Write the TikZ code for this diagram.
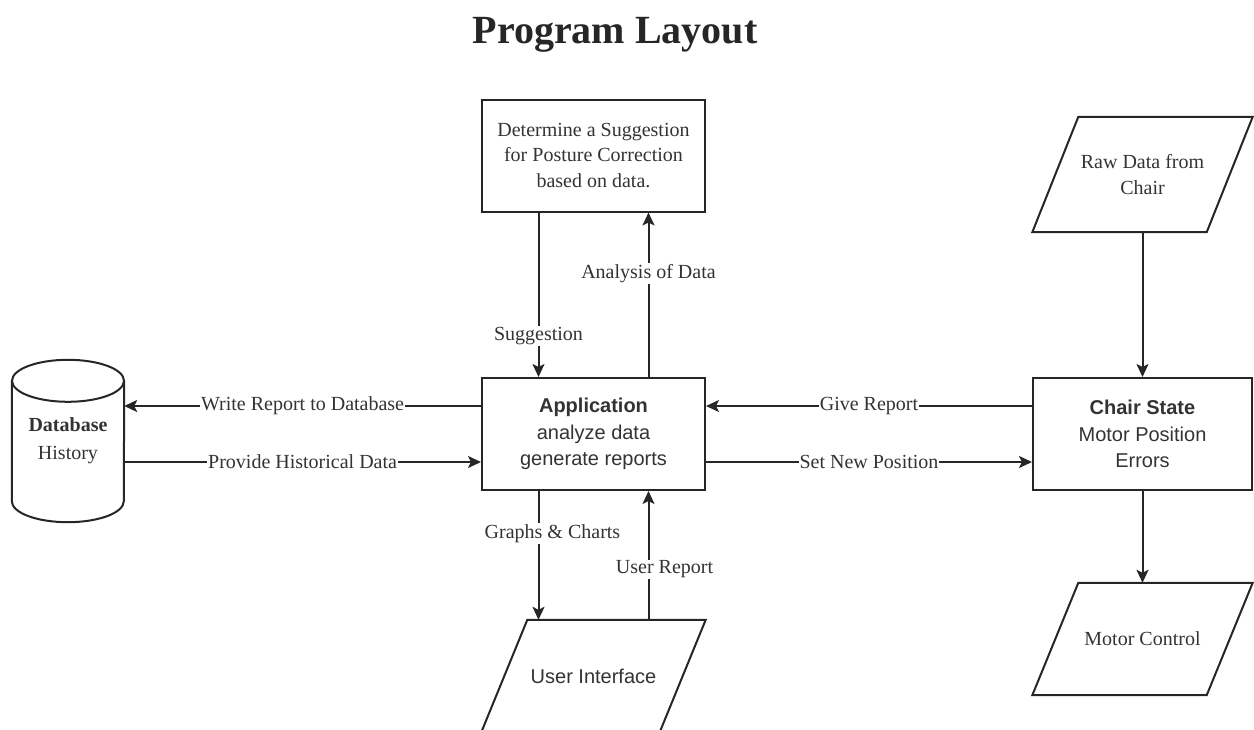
\documentclass[tikz,border=0pt]{standalone}
\usepackage{fontspec}
\setmainfont{Liberation Serif}
\setsansfont{Liberation Sans}
\usetikzlibrary{arrows.meta}

\begin{document}
\begin{tikzpicture}[x=1pt,y=-1pt,
  ink/.style={draw=black!85, line width=2pt},
  arr/.style={ink, -{Stealth[length=13pt,width=12pt,inset=3pt]}},
  box/.style={ink, minimum width=223pt, minimum height=112pt, inner sep=0pt,
    align=center, text=black!80},
  sansbox/.style={box, font=\sffamily\fontsize{20}{26.5}\selectfont},
  serifbox/.style={box, font=\fontsize{20}{25.5}\selectfont},
  slantbox/.style={minimum width=220pt, minimum height=#1, inner sep=0pt,
    align=center, text=black!80},
  lbl/.style={fill=white, inner sep=1pt, text=black!80,
    font=\fontsize{20}{24}\selectfont},
]
\useasboundingbox (0,0) rectangle (1254,729);

% title
\node[anchor=base, text=black!85, font=\bfseries\fontsize{40}{48}\selectfont]
  (title) at (615,43) {Program Layout};

% main boxes
\node[serifbox] (sugg) at (593.5,155.5)
  {Determine a Suggestion\\for Posture Correction\\based on data.};
\node[sansbox] (app) at (593.5,434)
  {\textbf{Application}\\analyze data\\generate reports};
\node[sansbox, minimum width=219pt] (chair) at (1142.5,434)
  {\textbf{Chair State}\\Motor Position\\Errors};

% database cylinder
\node[minimum width=112pt, minimum height=162pt, inner sep=0pt, align=center,
  text=black!80, font=\fontsize{20}{28}\selectfont]
  (db) at (68,441) {\textbf{Database}\\History};
\draw[ink] ([yshift=-21pt]db.north west) -- ([yshift=21pt]db.south west)
  arc[start angle=180, end angle=360, x radius=56pt, y radius=21pt]
  -- ([yshift=-21pt]db.north east);
\draw[ink] ([yshift=-21pt]db.north) ellipse [x radius=56pt, y radius=21pt];

% parallelograms (input / output)
\node[slantbox=115pt, font=\fontsize{20}{26}\selectfont] (raw) at (1142.5,174.5)
  {Raw Data from\\Chair};
\draw[ink] (raw.south west) -- ([xshift=-46pt]raw.south east)
  -- (raw.north east) -- ([xshift=46pt]raw.north west) -- cycle;

\node[slantbox=112pt, font=\fontsize{20}{26}\selectfont] (mc) at (1142.5,639)
  {Motor Control};
\draw[ink] (mc.south west) -- ([xshift=-46pt]mc.south east)
  -- (mc.north east) -- ([xshift=46pt]mc.north west) -- cycle;

\node[slantbox=112pt, minimum width=224pt, font=\sffamily\fontsize{20}{26}\selectfont]
  (ui) at (593.5,676) {User Interface};
\draw[ink] (ui.south west) -- ([xshift=-46pt]ui.south east)
  -- (ui.north east) -- ([xshift=46pt]ui.north west) -- cycle;

% connectors
\draw[arr] ([xshift=-55pt]sugg.south) -- node[lbl, pos=0.75]{Suggestion} ([xshift=-55pt]app.north);
\draw[arr] ([xshift=55pt]app.north) -- node[lbl, pos=0.63]{Analysis of Data} ([xshift=55pt]sugg.south);
\draw[arr] ([xshift=-55pt]app.south) -- node[lbl, pos=0.33, xshift=14pt]{Graphs \& Charts} ([xshift=-55pt]ui.north);
\draw[arr] ([xshift=55pt]ui.north) -- node[lbl, pos=0.39, xshift=16pt]{User Report} ([xshift=55pt]app.south);

\draw[arr] ([yshift=28pt]app.west) -- node[lbl]{Write Report to Database} ([yshift=35pt]db.east);
\draw[arr] ([yshift=-21pt]db.east) -- node[lbl]{Provide Historical Data} ([yshift=-28pt]app.west);
\draw[arr] ([yshift=28pt]chair.west) -- node[lbl]{Give Report} ([yshift=28pt]app.east);
\draw[arr] ([yshift=-28pt]app.east) -- node[lbl]{Set New Position} ([yshift=-28pt]chair.west);

\draw[arr] (raw.south) -- (chair.north);
\draw[arr] (chair.south) -- (mc.north);
\end{tikzpicture}
\end{document}
